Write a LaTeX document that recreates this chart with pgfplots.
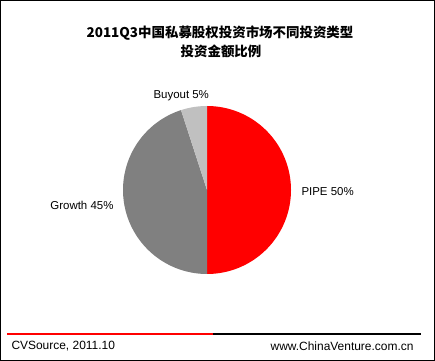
\documentclass[border=0pt]{standalone}
\usepackage{pgfplots}
\pgfplotsset{compat=1.18}
\usepackage{fontspec}
\setmainfont{Liberation Sans}
\newfontfamily\cjk{Noto Sans CJK SC}
\definecolor{pipe}{HTML}{FF0000}
\definecolor{growth}{HTML}{808080}
\definecolor{buyout}{HTML}{C0C0C0}
\begin{document}
\begin{tikzpicture}
\begin{axis}[hide axis, scale only axis, width=435bp, height=361bp,
  xmin=0, xmax=435, ymin=0, ymax=361, clip=false]
% pie: centre (207,171), radius 84; shares PIPE 50, Growth 45, Buyout 5 (clockwise from top)
\addplot[fill=pipe, draw=none, domain=-90:90, samples=91]
  ({207+84*cos(x)},{171+84*sin(x)}) -- (axis cs:207,171) -- cycle;
\addplot[fill=growth, draw=none, domain=108:270, samples=91]
  ({207+84*cos(x)},{171+84*sin(x)}) -- (axis cs:207,171) -- cycle;
\addplot[fill=buyout, draw=none, domain=90:108, samples=19]
  ({207+84*cos(x)},{171+84*sin(x)}) -- (axis cs:207,171) -- cycle;
\node[font=\cjk\bfseries\fontsize{13.5}{16}\selectfont] at (axis cs:220,327.5) {2011Q3中国私募股权投资市场不同投资类型};
\node[font=\cjk\bfseries\fontsize{13.5}{16}\selectfont] at (axis cs:221,309.5) {投资金额比例};
\node[font=\fontsize{11.5}{13}\selectfont, anchor=west] at (axis cs:150,265) {Buyout 5\%};
\node[font=\fontsize{11.5}{13}\selectfont, anchor=west] at (axis cs:298,169) {PIPE 50\%};
\node[font=\fontsize{11.5}{13}\selectfont, anchor=east] at (axis cs:117,156) {Growth 45\%};
\draw[pipe, line width=2bp] (axis cs:7,27.3) -- (axis cs:213,27.3);
\draw[black, line width=2bp] (axis cs:213,27.3) -- (axis cs:421,27.3);
\node[font=\fontsize{12}{14}\selectfont, anchor=west] at (axis cs:8,15) {CVSource, 2011.10};
\node[font=\fontsize{12}{14}\selectfont, anchor=east] at (axis cs:417,15) {www.ChinaVenture.com.cn};
\draw[black, line width=1bp] (axis cs:0.5,0.5) rectangle (axis cs:434.5,360.5);
\end{axis}
\end{tikzpicture}
\end{document}
